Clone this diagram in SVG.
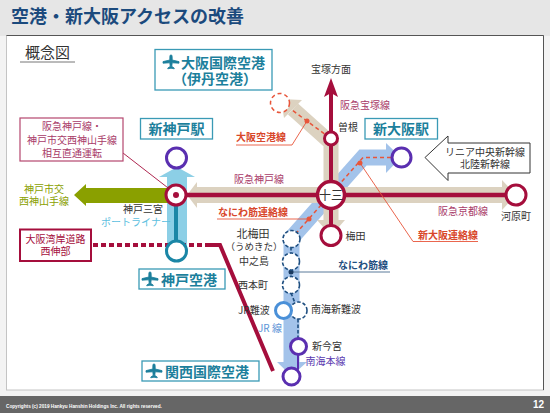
<svg xmlns="http://www.w3.org/2000/svg" width="550" height="413" viewBox="0 0 550 413">
<style>
text{font-family:"Noto Sans CJK JP","Noto Sans",sans-serif;font-size:10px;fill:#333}
.m{text-anchor:middle}
.hd{font-size:18px;font-weight:700;fill:#1b4a7d}
.cr{fill:#a83a68}
.or{fill:#d8472b;font-weight:700}
.tl{fill:#1c7f9c;font-weight:700}
.box{fill:#fff;stroke:#3a9ab5;stroke-width:1.3}
.st{fill:#fff;stroke-width:3}
.c{stroke:#a50e3c}
.p{stroke:#5a2fb0}
.t{stroke:#1a86a6}
.n{stroke:#1f4f80;stroke-width:1.6;stroke-dasharray:3.5 2}
.od{fill:none;stroke:#e8553a;stroke-width:1.5;stroke-dasharray:4 3}
.ol{fill:none;stroke:#e8553a;stroke-width:.9}
.dot{fill:#e8553a}
</style>
<defs>
<path id="plane" d="M0-9C1-9 1.5-7.5 1.5-6L1.5-2.5L10-.5V1.5L1.5 1L1 5.5L4 7.5V8.5L0 7.8L-4 8.5V7.5L-1 5.5L-1.5 1L-10 1.5V-.5L-1.5-2.5V-6C-1.5-7.500-1-9 0-9Z" fill="#1c7f9c" stroke="#1c7f9c" stroke-width="1"/>
</defs>
<rect width="550" height="413" fill="#f3f3f3"/>
<rect width="550" height="36" fill="#e6e6e6"/>
<rect x="6.500" y="35.500" width="537" height="354.500" fill="#fff" stroke="#c4c4c4"/>
<path d="M6.500 35.500H543.500V390" fill="none" stroke="#555"/>
<text class="hd" x="11" y="23">空港・新大阪アクセスの改善</text>
<text x="25" y="58" style="font-size:15px">概念図</text>
<path d="M20 62H75" stroke="#777" stroke-width="1"/>

<g id="connectors">
<path d="M386 157.500H363L291.500 238V363" fill="none" stroke="#a3c3ea" stroke-width="16"/>
<polygon points="386,143 401,157.500 386,173" fill="#a3c3ea"/>
<polygon points="277,362 307,362 291.500,376" fill="#a3c3ea"/>
<rect x="167" y="177" width="20" height="74" fill="#8ccfe6"/>
<polygon points="159,177 195,177 177,167" fill="#8ccfe6"/>
<polygon points="74,195 86,184 86,188 170,188 170,203 86,203 86,206" fill="#8aa000"/>
<path d="M197 195H504" stroke="#dcd2c0" stroke-width="16"/>
<polygon points="197,182 197,208 187,195" fill="#dcd2c0"/>
<polygon points="502,180 516,195 502,210" fill="#dcd2c0"/>
<path d="M331 222V143L293 109" fill="none" stroke="#dcd2c0" stroke-width="15"/>
<polygon points="302,100 284,118 281,99" fill="#dcd2c0"/>
<polygon points="317,220 345,220 331,236" fill="#dcd2c0"/>
<path d="M176 195H516" stroke="#a50e3c" stroke-width="4.500"/>
<path d="M331 235V92" stroke="#a50e3c" stroke-width="4"/>
<polygon points="331,78 338,97 331,93 324,97" fill="#a50e3c"/>
<path d="M176 195V250" stroke="#1a86a6" stroke-width="4"/>
<path d="M93 245H206" stroke="#a50e3c" stroke-width="4" stroke-dasharray="5 3"/>
<path d="M206 245H220L273 371" fill="none" stroke="#a50e3c" stroke-width="4"/>
<path d="M123 153L172 191" stroke="#a50e3c" stroke-width=".9"/>
<path d="M330 138L292 110" class="od"/>
<path d="M391 157.500H363L291 239" class="od"/>
<path d="M307 121L292 145H236" class="ol"/>
<path d="M360 163L413 241.500H478" class="ol"/>
<path d="M217 219H309" class="ol"/>
<circle class="dot" cx="307" cy="121" r="2.500"/>
<circle class="dot" cx="360" cy="163" r="2.500"/>
<circle class="dot" cx="309" cy="219" r="2.500"/>
<path d="M291 247V253M291 270V277M291 293L295 303M298 319V339" fill="none" class="n"/>
<path d="M291 272H390" stroke="#5a7a9a" stroke-width="1"/>
<circle cx="291" cy="272" r="2.500" fill="#1a3a60"/>
<path d="M298 355V369L296 372" fill="none" stroke="#5a2fb0" stroke-width="2"/>
</g>

<g id="kobe-sannomiya"><circle class="st c" cx="176" cy="195" r="10"/><circle cx="176" cy="195" r="3" fill="#a50e3c"/><text class="m" x="143" y="213">神戸三宮</text></g>
<g id="shin-kobe"><circle class="st p" cx="176.500" cy="158" r="10"/><rect class="box" x="140.500" y="118.500" width="72" height="20.500"/><text class="m tl" x="176.500" y="134" style="font-size:14px">新神戸駅</text></g>
<g id="kobe-airport"><circle class="st t" cx="176.500" cy="251" r="10"/><rect class="box" x="139" y="269" width="86" height="20"/><use href="#plane" transform="translate(150 279) scale(.8)"/><text class="tl" x="161" y="285" style="font-size:14px">神戸空港</text></g>
<g id="itami"><rect class="box" x="155" y="49.500" width="117" height="40.500"/><use href="#plane" transform="translate(171 62) scale(.8)"/><text class="tl" x="181" y="68" style="font-size:14px">大阪国際空港</text><text class="m tl" x="215" y="84" style="font-size:14px">（伊丹空港）</text></g>
<g id="kix"><rect class="box" x="142" y="361" width="117" height="20"/><use href="#plane" transform="translate(154 371) scale(.8)"/><text class="tl" x="165" y="377" style="font-size:14px">関西国際空港</text></g>
<g id="shin-osaka"><circle class="st p" cx="401.500" cy="157.500" r="9.500"/><rect class="box" x="365" y="118.500" width="72.500" height="20.500"/><text class="m tl" x="401" y="134" style="font-size:14px">新大阪駅</text></g>
<g id="juso"><circle class="st c" cx="331" cy="195" r="13.500" style="stroke-width:3.500"/><text class="m" x="331" y="199.500" style="font-size:12px">十三</text></g>
<g id="sone"><circle class="st c" cx="331" cy="138.500" r="6.500"/><text x="338" y="131">曽根</text></g>
<g id="umeda"><circle class="st c" cx="331" cy="235.500" r="10"/><text x="345.500" y="239.500">梅田</text></g>
<g id="kawaramachi"><circle class="st c" cx="516" cy="195" r="10"/><text x="501" y="219.500">河原町</text></g>
<g id="itami-stop"><circle cx="280" cy="103" r="9.500" class="od" style="fill:#fff"/></g>
<g id="kitaumeda"><circle class="st n" cx="291.500" cy="239" r="8.500"/><text class="m" x="253" y="237.500" style="font-size:11px">北梅田</text><text class="m" x="254" y="249.500" style="font-size:9.500px">（うめきた）</text></g>
<g id="nakanoshima"><circle class="st n" cx="291" cy="261.500" r="8.500"/><text x="239" y="265">中之島</text></g>
<g id="nishihonmachi"><circle class="st n" cx="291" cy="285" r="8.500"/><text x="238" y="288.500">西本町</text></g>
<g id="shin-nanba"><circle class="st n" cx="298.500" cy="310.500" r="8.500"/><text x="311" y="313">南海新難波</text></g>
<g id="jr-nanba"><circle cx="283.500" cy="310.500" r="8" fill="#fff" stroke="#4a90d8" stroke-width="3"/><text x="238" y="313.500">JR難波</text></g>
<g id="shin-imamiya"><circle class="st p" cx="298.500" cy="346.500" r="8"/><text x="312" y="350">新今宮</text></g>
<g id="kix-stop"><circle class="st p" cx="291.500" cy="376.500" r="8.500"/></g>

<g id="callout-chokutsu"><rect x="20" y="118" width="103" height="43" fill="#fff" stroke="#b5476e" stroke-width="1.200"/><text class="m cr" x="72" y="130">阪急神戸線・</text><text class="m cr" x="72" y="144">神戸市交西神山手線</text><text class="m cr" x="72" y="157">相互直通運転</text></g>
<g id="callout-wangan"><rect x="20" y="229.500" width="71" height="31.500" fill="#fff" stroke="#a50e3c" stroke-width="2"/><text class="m" x="55.500" y="243" style="fill:#a50e3c">大阪湾岸道路</text><text class="m" x="55.500" y="255" style="fill:#a50e3c">西伸部</text></g>
<g id="callout-linear"><polygon points="425,157.500 448,136 448,143 530,143 530,173 448,173 448,180.500" fill="#fff" stroke="#333"/><text class="m" x="485" y="155.500">リニア中央新幹線</text><text class="m" x="485" y="168">北陸新幹線</text></g>

<g id="labels">
<text class="m" x="44" y="193" style="fill:#8aa000">神戸市交</text>
<text class="m" x="44" y="205" style="fill:#8aa000">西神山手線</text>
<text class="m" x="136" y="226" style="fill:#5cc0e0">ポートライナー</text>
<text class="m" x="331" y="73">宝塚方面</text>
<text class="cr" x="340" y="109">阪急宝塚線</text>
<text class="or" x="236" y="141">大阪空港線</text>
<text class="cr" x="234" y="183">阪急神戸線</text>
<text class="cr" x="438" y="215">阪急京都線</text>
<text class="or" x="218" y="216">なにわ筋連絡線</text>
<text class="or" x="418" y="239">新大阪連絡線</text>
<text x="338" y="269" style="fill:#1f4f80;font-weight:700">なにわ筋線</text>
<text x="258" y="332" style="fill:#5b93d6">JR 線</text>
<text x="305.500" y="365" style="fill:#5a3ab0">南海本線</text>
</g>

<rect y="396" width="550" height="17" fill="#666"/>
<text x="6" y="408" style="font-family:'Liberation Sans',sans-serif;font-size:4.700px;font-weight:700;fill:#fff">Copyrights (c) 2019 Hankyu Hanshin Holdings Inc. All rights reserved.</text>
<text x="533" y="408" style="font-family:'Liberation Sans',sans-serif;font-size:10px;font-weight:700;fill:#fff">12</text>
</svg>
